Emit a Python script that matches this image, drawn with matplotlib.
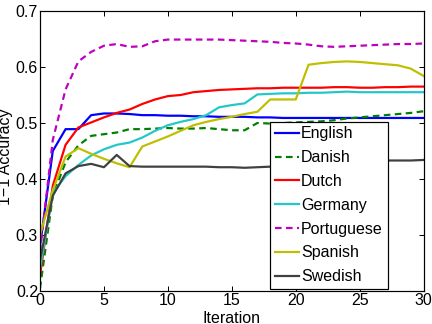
import numpy as np
import matplotlib
matplotlib.use('Agg')
import matplotlib.pyplot as plt

plt.rcParams['font.family'] = ['Liberation Sans', 'DejaVu Sans']

# data, iterations 0..30
iterations = list(range(31))

english = [0.28, 0.45, 0.489, 0.489, 0.514, 0.517, 0.517, 0.516, 0.514, 0.514, 0.513,
           0.513, 0.512, 0.512, 0.511, 0.511, 0.511, 0.510, 0.510, 0.509, 0.509,
           0.509, 0.509, 0.509, 0.509, 0.509, 0.509, 0.509, 0.509, 0.509, 0.509]
danish = [0.205, 0.37, 0.43, 0.46, 0.477, 0.48, 0.483, 0.489, 0.489, 0.49, 0.491,
          0.49, 0.49, 0.491, 0.489, 0.487, 0.487, 0.5, 0.499, 0.5, 0.501,
          0.502, 0.503, 0.505, 0.508, 0.51, 0.512, 0.514, 0.516, 0.518, 0.521]
dutch = [0.228, 0.388, 0.461, 0.492, 0.501, 0.51, 0.518, 0.524, 0.534, 0.542, 0.548,
         0.55, 0.555, 0.557, 0.559, 0.56, 0.561, 0.562, 0.562, 0.563, 0.563,
         0.563, 0.563, 0.564, 0.564, 0.563, 0.563, 0.564, 0.564, 0.565, 0.565]
germany = [0.24, 0.375, 0.405, 0.425, 0.442, 0.453, 0.461, 0.465, 0.474, 0.486, 0.496,
           0.502, 0.507, 0.514, 0.528, 0.532, 0.535, 0.551, 0.552, 0.553, 0.553,
           0.554, 0.554, 0.555, 0.556, 0.555, 0.555, 0.555, 0.555, 0.555, 0.555]
portuguese = [0.27, 0.47, 0.56, 0.61, 0.627, 0.638, 0.641, 0.636, 0.637, 0.646, 0.649,
              0.649, 0.649, 0.649, 0.649, 0.648, 0.647, 0.646, 0.645, 0.643, 0.642,
              0.64, 0.637, 0.636, 0.637, 0.638, 0.639, 0.64, 0.641, 0.641, 0.642]
spanish = [0.30, 0.38, 0.44, 0.455, 0.445, 0.436, 0.428, 0.421, 0.458, 0.467, 0.476,
           0.486, 0.496, 0.502, 0.507, 0.511, 0.516, 0.52, 0.542, 0.542, 0.542,
           0.604, 0.607, 0.609, 0.61, 0.609, 0.607, 0.605, 0.603, 0.597, 0.584]
swedish = [0.255, 0.37, 0.41, 0.423, 0.427, 0.421, 0.443, 0.423, 0.422, 0.422, 0.422,
           0.422, 0.422, 0.422, 0.421, 0.421, 0.42, 0.421, 0.422, 0.424, 0.425,
           0.427, 0.429, 0.43, 0.431, 0.432, 0.433, 0.433, 0.433, 0.433, 0.434]

fig = plt.figure(figsize=(6, 4.5), dpi=72)
ax = fig.add_axes([0.0926, 0.102, 0.888, 0.864])

dash = (0, (3, 2))
ax.plot(iterations, english, color='#0000ff', lw=2.2, label='English')
ax.plot(iterations, danish, color='#008000', lw=2.2, linestyle=dash, label='Danish')
ax.plot(iterations, dutch, color='#ff0000', lw=2.2, label='Dutch')
ax.plot(iterations, germany, color='#22c8c8', lw=2.2, label='Germany')
ax.plot(iterations, portuguese, color='#bf00bf', lw=2.2, linestyle=dash, label='Portuguese')
ax.plot(iterations, spanish, color='#bfbf00', lw=2.2, label='Spanish')
ax.plot(iterations, swedish, color='#404040', lw=2.2, label='Swedish')

ax.set_xlim(0, 30)
ax.set_ylim(0.2, 0.7)
ax.set_xticks([0, 5, 10, 15, 20, 25, 30])
ax.set_yticks([0.2, 0.3, 0.4, 0.5, 0.6, 0.7])
ax.tick_params(direction='in', top=True, right=True, length=5, width=1,
               labelsize=16, pad=2)
for s in ax.spines.values():
    s.set_linewidth(1.2)

ax.set_xlabel('Iteration', fontsize=16, va='center')
ax.set_ylabel('1\u22121 Accuracy', fontsize=16, va='center')
ax.xaxis.set_label_coords(0.5, -0.098)
ax.yaxis.set_label_coords(-0.09, 0.48)

leg = ax.legend(loc='lower right', bbox_to_anchor=(0.906, 0.007), borderaxespad=0,
                fontsize=16, fancybox=False, framealpha=1, edgecolor='black',
                handlelength=1.5, handletextpad=0.15, labelspacing=0.55,
                borderpad=0.3)
leg.get_frame().set_linewidth(1.2)

fig.savefig('out.png', dpi=72)
